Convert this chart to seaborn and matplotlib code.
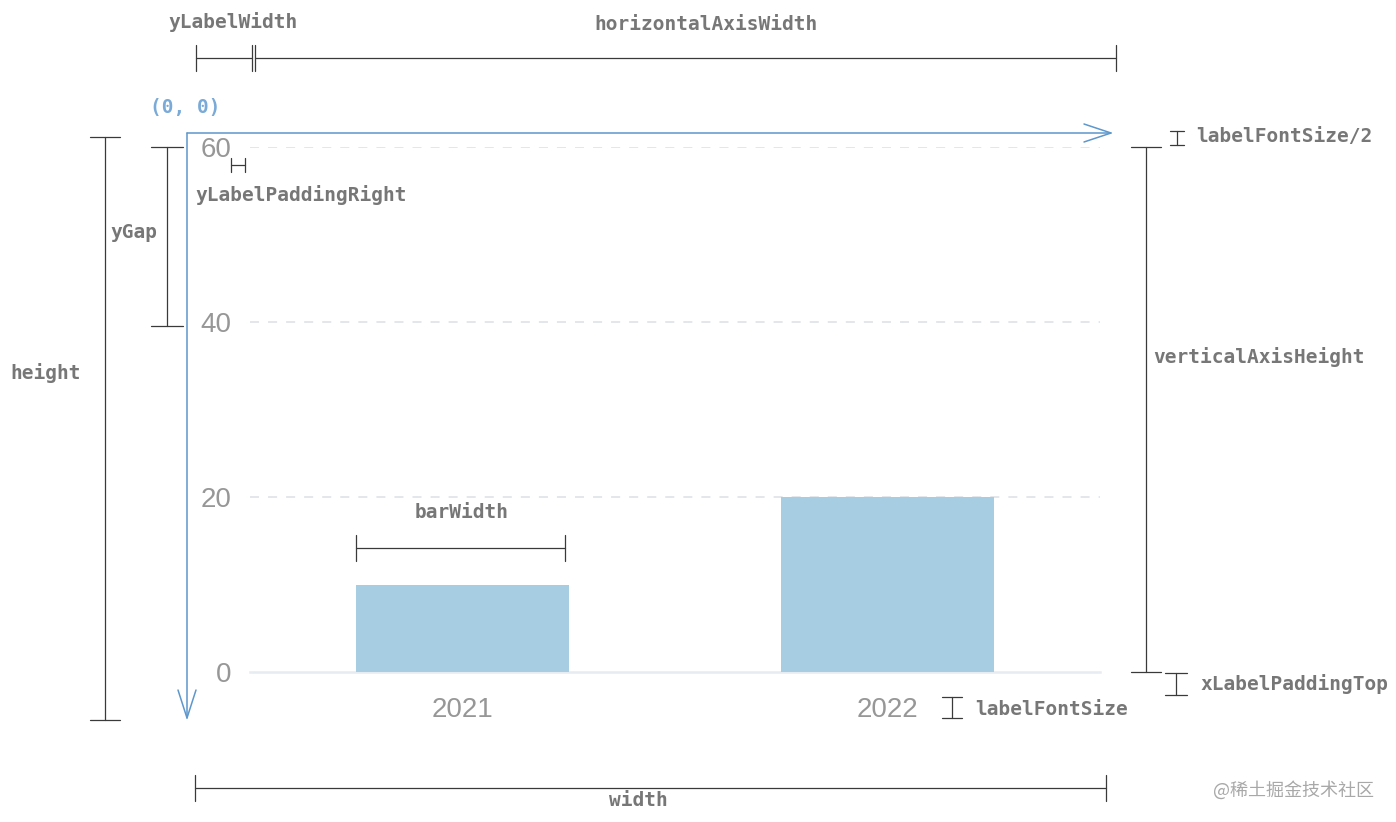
import matplotlib
matplotlib.use("Agg")
import matplotlib.pyplot as plt
import seaborn as sns
import pandas as pd

# ---- data ----
years = ["2021", "2022"]
values = [10, 20]
y_ticks = [0, 20, 40, 60]

sns.set_theme(style="white")
plt.rcParams['font.family'] = ['Liberation Sans', 'DejaVu Sans']

W, H = 1396, 822
fig = plt.figure(figsize=(W / 100, H / 100), dpi=100)
fig.patch.set_facecolor("white")


def fx(px):
    return px / W


def fy(py):
    return 1 - py / H


# ---- chart axes ----
ax = fig.add_axes([fx(250), fy(672), fx(1100) - fx(250), fy(147) - fy(672)])
df = pd.DataFrame({"year": years, "value": values})
sns.barplot(data=df, x="year", y="value", ax=ax, color="#a7cde2",
            saturation=1, width=0.5, linewidth=0, zorder=3)
ax.set_xlim(-0.5, 1.5)
ax.set_ylim(0, 60)
ax.set_yticks(y_ticks)
ax.set_xlabel("")
ax.set_ylabel("")
ax.set_facecolor("white")
ax.grid(axis="y", linestyle=(0, (5, 5)), color="#e0e4e8", linewidth=1.3)
ax.grid(axis="x", visible=False)
ax.get_ygridlines()[0].set_visible(False)
for s in ["top", "left", "right"]:
    ax.spines[s].set_visible(False)
ax.spines["bottom"].set_color("#e6ecf1")
ax.spines["bottom"].set_linewidth(1.8)
ax.tick_params(axis="y", length=0, pad=13.5, labelsize=20, labelcolor="#979797")
ax.tick_params(axis="x", length=0, pad=18, labelsize=20, labelcolor="#979797")

# ---- annotation overlay (pixel coordinates) ----
ov = fig.add_axes([0, 0, 1, 1], zorder=5)
ov.set_xlim(0, W)
ov.set_ylim(H, 0)
ov.axis("off")
ov.patch.set_alpha(0)

LC = "#3a3a3a"
TC = "#777777"
MONO = dict(family=["DejaVu Sans Mono"], fontsize=14, fontweight="bold", color=TC)


def hdim(x0, x1, y, t=13):
    ov.plot([x0, x1], [y, y], color=LC, lw=0.9)
    for x in (x0, x1):
        ov.plot([x, x], [y - t, y + t], color=LC, lw=0.9)


def vdim(x, y0, y1, t=15):
    ov.plot([x, x], [y0, y1], color=LC, lw=0.9)
    for y in (y0, y1):
        ov.plot([x - t, x + t], [y, y], color=LC, lw=0.9)


def txt(x, y, s, ha="left"):
    ov.text(x, y, s, ha=ha, va="center", **MONO)


# top dims
hdim(196, 252, 58)
hdim(255, 1116, 58)
txt(233, 22, "yLabelWidth", ha="center")
txt(706, 25, "horizontalAxisWidth", ha="center")

# origin
ov.text(150, 107, "(0, 0)", ha="left", va="center",
        family=["DejaVu Sans Mono"], fontsize=14, fontweight="bold", color="#7aaad8")

# blue axes arrows
BC = "#5d97cc"
ov.plot([187, 1111], [133, 133], color=BC, lw=1.1)
ov.plot([1084, 1111, 1084], [124, 133, 142], color=BC, lw=1.1)
ov.plot([187, 187], [133, 718], color=BC, lw=1.1)
ov.plot([178, 187, 196], [690, 718, 690], color=BC, lw=1.1)

# yLabelPaddingRight
hdim(231, 245, 165, t=7)
txt(195, 195, "yLabelPaddingRight")

# yGap
vdim(167, 147, 326, t=16)
txt(110, 232, "yGap")

# height
vdim(105, 137, 720, t=15)
txt(10, 373, "height")

# barWidth
hdim(356, 565, 548, t=13)
txt(462, 512, "barWidth", ha="center")

# labelFontSize/2
vdim(1177, 131, 145, t=7)
txt(1196, 137, "labelFontSize/2")

# verticalAxisHeight
vdim(1146, 147, 672, t=15)
txt(1153, 357, "verticalAxisHeight")

# xLabelPaddingTop
vdim(1176, 673, 695, t=11)
txt(1200, 684, "xLabelPaddingTop")

# labelFontSize
vdim(952, 697, 718, t=10)
txt(975, 709, "labelFontSize")

# width
hdim(195, 1106, 788, t=13)
txt(638, 800, "width", ha="center")

# watermark
ov.text(1213, 790, "@稀土掘金技术社区", ha="left", va="center",
        family=["Noto Sans CJK SC", "DejaVu Sans"], fontsize=13, color="#a8a8a8")

fig.savefig("out.png", dpi=100, facecolor="white")
